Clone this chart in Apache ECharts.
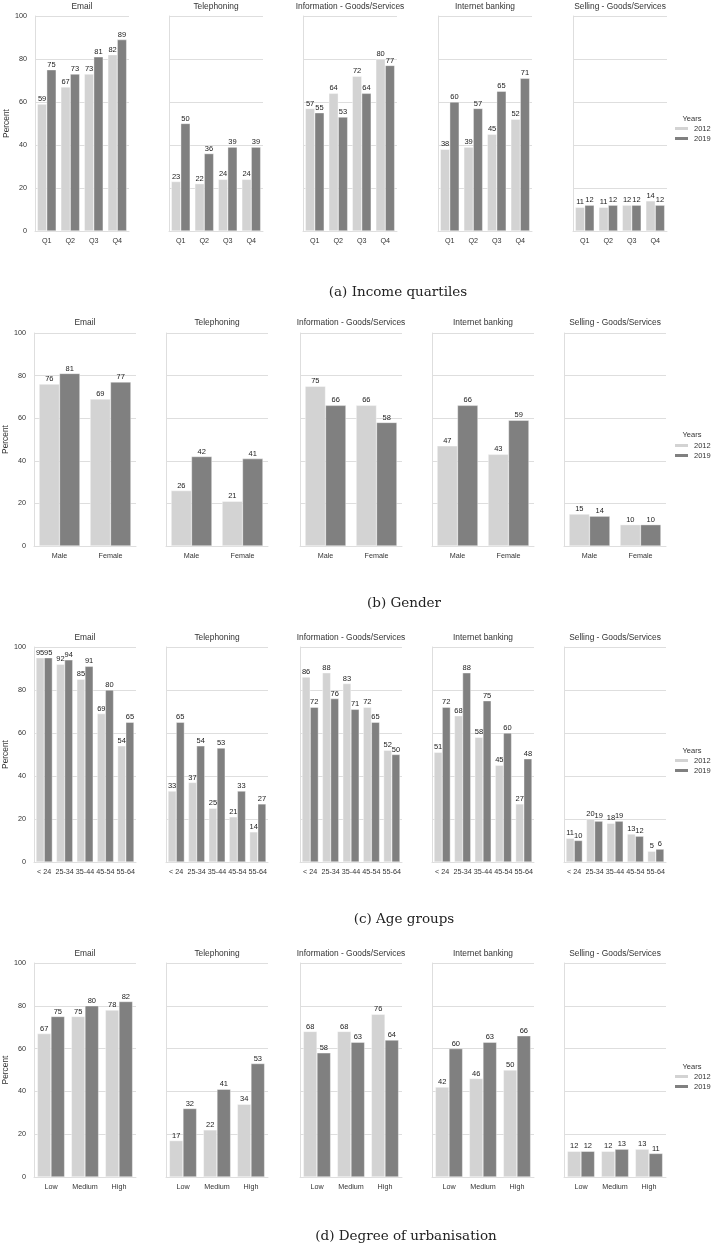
<!DOCTYPE html>
<html>
<head>
<meta charset="utf-8">
<script src="https://cdn.jsdelivr.net/npm/echarts@6/dist/echarts.min.js"></script>
<style>
html,body{margin:0;padding:0;background:#fff;}
#chart{width:714px;height:1252px;}
</style>
</head>
<body>
<div id="chart"></div>
<script>
// ---- Data ----
const panelTitles = ['Email', 'Telephoning', 'Information - Goods/Services', 'Internet banking', 'Selling - Goods/Services'];
const years = ['2012', '2019'];
const yTicks = [0, 20, 40, 60, 80, 100];
const captions = ['(a) Income quartiles', '(b) Gender', '(c) Age groups', '(d) Degree of urbanisation'];

const incomeCats = ['Q1', 'Q2', 'Q3', 'Q4'];
const income2012 = [[59, 67, 73, 82], [23, 22, 24, 24], [57, 64, 72, 80], [38, 39, 45, 52], [11, 11, 12, 14]];
const income2019 = [[75, 73, 81, 89], [50, 36, 39, 39], [55, 53, 64, 77], [60, 57, 65, 71], [12, 12, 12, 12]];

const genderCats = ['Male', 'Female'];
const gender2012 = [[76, 69], [26, 21], [75, 66], [47, 43], [15, 10]];
const gender2019 = [[81, 77], [42, 41], [66, 58], [66, 59], [14, 10]];

const ageCats = ['< 24', '25-34', '35-44', '45-54', '55-64'];
const age2012 = [[95, 92, 85, 69, 54], [33, 37, 25, 21, 14], [86, 88, 83, 72, 52], [51, 68, 58, 45, 27], [11, 20, 18, 13, 5]];
const age2019 = [[95, 94, 91, 80, 65], [65, 54, 53, 33, 27], [72, 76, 71, 65, 50], [72, 88, 75, 60, 48], [10, 19, 19, 12, 6]];

const urbanCats = ['Low', 'Medium', 'High'];
const urban2012 = [[67, 75, 78], [17, 22, 34], [68, 68, 76], [42, 46, 50], [12, 12, 13]];
const urban2019 = [[75, 80, 82], [32, 41, 53], [58, 63, 64], [60, 63, 66], [12, 13, 11]];

// ---- Layout ----
const rows = [
  {cats: incomeCats, d12: income2012, d19: income2019, top: 16, h: 215, lefts: [35, 169, 303, 438, 573], w: 94, titleC: 8, capC: 293, capX: 398, yearsC: 119, legC: 129},
  {cats: genderCats, d12: gender2012, d19: gender2019, top: 333, h: 213, lefts: [34, 166, 300, 432, 564], w: 102, titleC: 324, capC: 604, capX: 404, yearsC: 435, legC: 446},
  {cats: ageCats, d12: age2012, d19: age2019, top: 647, h: 215, lefts: [34, 166, 300, 432, 564], w: 102, titleC: 639, capC: 920, capX: 404, yearsC: 751, legC: 761},
  {cats: urbanCats, d12: urban2012, d19: urban2019, top: 963, h: 214, lefts: [34, 166, 300, 432, 564], w: 102, titleC: 955, capC: 1237, capX: 406, yearsC: 1067, legC: 1077}
];

const FONT = 'Liberation Sans, Arial, sans-serif';
const TXT = '#333333';
const GRID_C = '#dedede';
const C12 = '#d3d3d3';
const C19 = '#808080';

const grid = [], xAxis = [], yAxis = [], series = [], title = [], legend = [];
let gi = 0;
rows.forEach((r, ri) => {
  panelTitles.forEach((pt, pi) => {
    grid.push({left: r.lefts[pi], top: r.top, width: r.w, height: r.h, containLabel: false});
    xAxis.push({
      type: 'category', gridIndex: gi, data: r.cats,
      axisLine: {show: true, lineStyle: {color: GRID_C, width: 1}},
      axisTick: {show: false},
      axisLabel: {interval: 0, fontSize: 7.2, color: TXT, fontFamily: FONT, margin: 7},
      splitLine: {show: false}
    });
    yAxis.push({
      type: 'value', gridIndex: gi, min: yTicks[0], max: yTicks[yTicks.length - 1], interval: 20,
      name: pi === 0 ? 'Percent' : '', nameLocation: 'middle', nameGap: 21,
      nameTextStyle: {fontSize: 8.4, color: TXT, fontFamily: FONT},
      axisLine: {show: true, lineStyle: {color: GRID_C, width: 1}},
      axisTick: {show: false},
      axisLabel: {show: pi === 0, fontSize: 7.2, color: TXT, fontFamily: FONT, margin: 8},
      splitLine: {show: true, lineStyle: {color: GRID_C, width: 1}}
    });
    [[years[0], r.d12[pi], C12], [years[1], r.d19[pi], C19]].forEach(([nm, vals, col]) => {
      series.push({
        type: 'bar', name: nm, xAxisIndex: gi, yAxisIndex: gi, data: vals,
        barGap: '0%', barCategoryGap: '20%',
        itemStyle: {color: col, borderColor: '#ffffff', borderWidth: 0.4},
        label: {show: true, position: 'top', distance: 1, fontSize: 7.5, color: '#222', fontFamily: FONT},
        silent: true, animation: false
      });
    });
    title.push({
      text: pt, left: r.lefts[pi] + r.w / 2, top: r.titleC - 5, textAlign: 'center', padding: 0,
      textStyle: {fontSize: 8.4, fontWeight: 'normal', color: TXT, fontFamily: FONT}
    });
    gi++;
  });
  title.push({
    text: captions[ri], left: r.capX, top: r.capC - 7.5, textAlign: 'center', padding: 0,
    textStyle: {fontSize: 13.5, fontWeight: 'normal', color: '#222', fontFamily: 'DejaVu Serif, serif'}
  });
  title.push({
    text: 'Years', left: 692, top: r.yearsC - 4.5, textAlign: 'center', padding: 0,
    textStyle: {fontSize: 7.5, fontWeight: 'normal', color: TXT, fontFamily: FONT}
  });
  legend.push({
    data: years, orient: 'vertical', left: 673, top: r.legC - 4.5, padding: 0,
    itemWidth: 15, itemHeight: 5, itemGap: 2, icon: 'rect',
    textStyle: {fontSize: 7.5, color: TXT, fontFamily: FONT}, selectedMode: false
  });
});

const chart = echarts.init(document.getElementById('chart'), null, {renderer: 'canvas'});
chart.setOption({
  backgroundColor: '#ffffff',
  animation: false,
  title: title, legend: legend, grid: grid, xAxis: xAxis, yAxis: yAxis, series: series
});
</script>
</body>
</html>
